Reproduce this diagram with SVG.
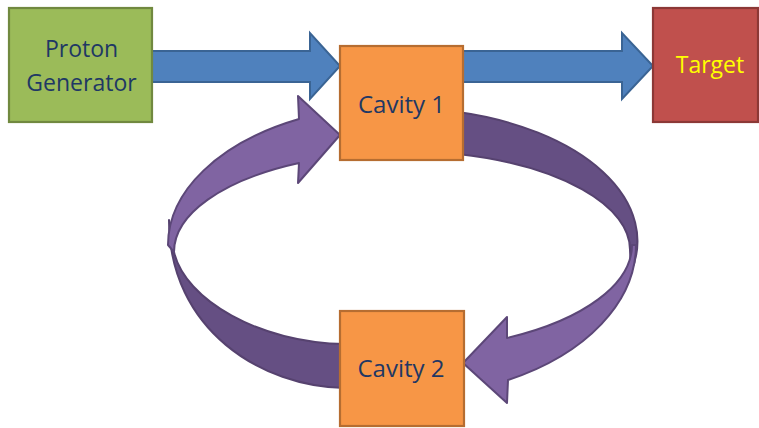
<svg xmlns="http://www.w3.org/2000/svg" width="759" height="428" viewBox="0 0 759 428">
<style>
.box{stroke-width:2.2}
.lbl{font-family:"Open Sans","Noto Sans","Liberation Sans",sans-serif;font-size:23px;text-anchor:middle;fill:#1F3864}
.blue{fill:#4F81BD;stroke:#3A6494;stroke-width:2}
.pl{fill:#8064A2;stroke:#5C4778;stroke-width:2;stroke-linejoin:round}
.pd{fill:#654F83;stroke:#56426F;stroke-width:2;stroke-linejoin:round}
</style>
<rect width="759" height="428" fill="#FFFFFF"/>
<g id="connectors">
  <path class="blue" d="M152,51 L310,51 L310,33 L340,66 L310,99 L310,82 L152,82 Z"/>
  <path class="blue" d="M463,51 L622,51 L622,33 L653,66 L622,99 L622,82 L463,82 Z"/>
  <path class="pd" d="M345,388 C262,387 169,330 169,220 L174,252 C185,300 260,343 345,344 Z"/>
  <path class="pd" d="M458,112 A236 133 0 0 1 631,272 L630,250 A230 98.8 0 0 0 458,154 Z"/>
  <path class="pl" d="M340,135 L298,96 L299,119 A232 140 0 0 0 168,245 L174,252 A226 99.5 0 0 1 299,163 L298,183 Z"/>
  <path class="pl" d="M636,245 A236 152 0 0 1 508,380 L507,403 L463,363 L507,317 L507,338 A232 105 0 0 0 632,245 Z"/>
</g>
<g id="proton-generator">
  <rect class="box" x="9" y="8" width="143" height="114" fill="#9BBB59" stroke="#71893F"/>
  <text class="lbl" x="81.5" y="57">Proton</text>
  <text class="lbl" x="81.5" y="91">Generator</text>
</g>
<g id="cavity-1">
  <rect class="box" x="340" y="46" width="123" height="114" fill="#F79646" stroke="#B66D31"/>
  <text class="lbl" x="401.5" y="113" style="font-size:24px">Cavity 1</text>
</g>
<g id="target">
  <rect class="box" x="653" y="8" width="105" height="114" fill="#C0504D" stroke="#8C3836"/>
  <text class="lbl" x="710" y="73" style="fill:#FFFF00">Target</text>
</g>
<g id="cavity-2">
  <rect class="box" x="340" y="311" width="124" height="115" fill="#F79646" stroke="#B66D31"/>
  <text class="lbl" x="401" y="377" style="font-size:24px">Cavity 2</text>
</g>
</svg>
